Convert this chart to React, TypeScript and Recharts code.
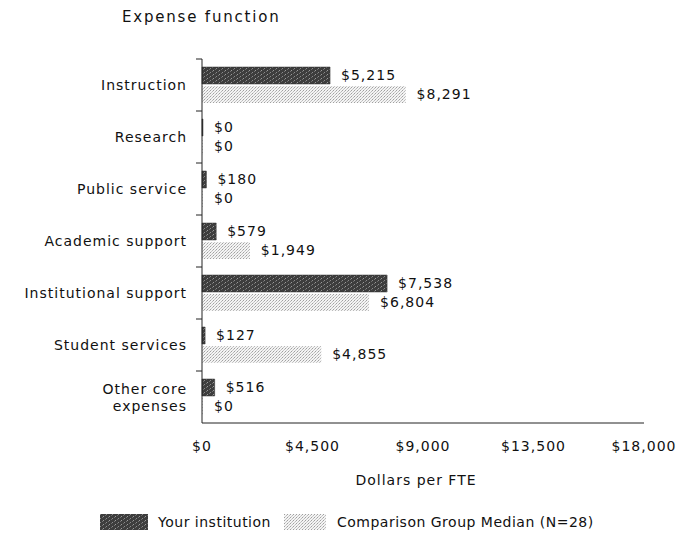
import React from 'react';
import { BarChart, Bar, XAxis, YAxis, LabelList } from 'recharts';

const categories = [
  'Instruction',
  'Research',
  'Public service',
  'Academic support',
  'Institutional support',
  'Student services',
  'Other core expenses',
];
const yourInstitution = [5215, 0, 180, 579, 7538, 127, 516];
const comparisonMedian = [8291, 0, 0, 1949, 6804, 4855, 0];
const xTicks = [0, 4500, 9000, 13500, 18000];

const labelLines: Record<string, string[]> = {
  'Other core expenses': ['Other core', 'expenses'],
};

const data = categories.map((name, i) => ({
  name,
  yours: yourInstitution[i],
  median: comparisonMedian[i],
}));

const FONT = '"DejaVu Sans", Verdana, sans-serif';
const TEXT = '#111';
const FS = 14;
const LS = 1;
const money = (v: number) => '$' + Number(v).toLocaleString('en-US');

const TICK_SIZE = 6;
const TICK_MARGIN = 9;
const BAND = 52;

const CategoryTick = (props: any) => {
  const { x, y, payload } = props;
  const lines = labelLines[payload.value] ?? [payload.value];
  const axisX = x + TICK_SIZE + TICK_MARGIN;
  const top = y - BAND / 2;
  const startY = y - ((lines.length - 1) * 17) / 2;
  return (
    <g>
      <line x1={axisX - 6} x2={axisX} y1={top} y2={top} stroke="#222" strokeWidth={1} />
      <text x={x} y={startY} textAnchor="end" dominantBaseline="central" fontSize={FS} letterSpacing={LS} fontFamily={FONT} fill={TEXT}>
        {lines.map((l, i) => (
          <tspan key={i} x={x} dy={i === 0 ? 0 : 17}>
            {l}
          </tspan>
        ))}
      </text>
    </g>
  );
};

const Patterns = () => (
  <defs>
    <pattern id="darkFill" width="6" height="4" patternUnits="userSpaceOnUse">
      <rect width="6" height="4" fill="#3d3d3d" />
      <rect x="0" y="0" width="1" height="1" fill="#8a8a8a" />
      <rect x="3" y="2" width="1" height="1" fill="#9a9a9a" />
      <rect x="5" y="1" width="1" height="1" fill="#6a6a6a" />
      <rect x="2" y="3" width="1" height="1" fill="#707070" />
    </pattern>
    <pattern id="lightFill" width="3" height="3" patternUnits="userSpaceOnUse">
      <rect width="3" height="3" fill="#f4f4f4" />
      <rect x="0" y="0" width="1" height="1" fill="#a0a0a0" />
      <rect x="2" y="1" width="1" height="1" fill="#bababa" />
      <rect x="1" y="2" width="1" height="1" fill="#c8c8c8" />
    </pattern>
  </defs>
);

const textStyle = { fontSize: FS, letterSpacing: LS, fontFamily: FONT, fill: TEXT };
const legendText: React.CSSProperties = { position: 'absolute', top: 0, lineHeight: '16px', fontSize: FS, letterSpacing: 0.5, whiteSpace: 'nowrap' };

const App: React.FC = () => {
  return (
    <div style={{ position: 'absolute', left: 0, top: 0, width: 689, height: 537, background: '#fff', fontFamily: FONT, color: TEXT }}>
      <div style={{ position: 'absolute', left: 122, top: 8, fontSize: 15, letterSpacing: 1.8 }}>Expense function</div>
      <BarChart
        width={689}
        height={537}
        data={data}
        layout="vertical"
        margin={{ top: 59, right: 45, bottom: 54, left: 12 }}
        barSize={17}
        barGap={2}
      >
        <Patterns />
        <XAxis
          type="number"
          domain={[0, 18000]}
          ticks={xTicks}
          tickFormatter={money}
          axisLine={{ stroke: '#222' }}
          tickLine={false}
          tickMargin={12}
          height={60}
          tick={textStyle}
          label={{ value: 'Dollars per FTE', position: 'insideBottom', offset: -2, dx: -7, ...textStyle }}
        />
        <YAxis
          type="category"
          dataKey="name"
          width={190}
          axisLine={{ stroke: '#222' }}
          tickLine={false}
          tickSize={TICK_SIZE}
          tickMargin={TICK_MARGIN}
          tick={<CategoryTick />}
          interval={0}
        />
        <Bar dataKey="yours" name="Your institution" fill="url(#darkFill)" stroke="#333" strokeWidth={0.5} minPointSize={1} isAnimationActive={false}>
          <LabelList dataKey="yours" position="right" offset={11} formatter={(v: any) => money(v)} {...textStyle} />
        </Bar>
        <Bar dataKey="median" name="Comparison Group Median (N=28)" fill="url(#lightFill)" minPointSize={1} isAnimationActive={false}>
          <LabelList dataKey="median" position="right" offset={11} formatter={(v: any) => money(v)} {...textStyle} />
        </Bar>
      </BarChart>
      <div style={{ position: 'absolute', top: 514, left: 0, width: 689, height: 16 }}>
        <svg width={48} height={16} style={{ position: 'absolute', left: 100, top: 0 }}>
          <rect width={48} height={16} fill="url(#darkFill)" />
        </svg>
        <span style={{ ...legendText, left: 158 }}>Your institution</span>
        <svg width={42} height={16} style={{ position: 'absolute', left: 284, top: 0 }}>
          <rect width={42} height={16} fill="url(#lightFill)" />
        </svg>
        <span style={{ ...legendText, left: 337 }}>Comparison Group Median (N=28)</span>
      </div>
    </div>
  );
};

export default App;
